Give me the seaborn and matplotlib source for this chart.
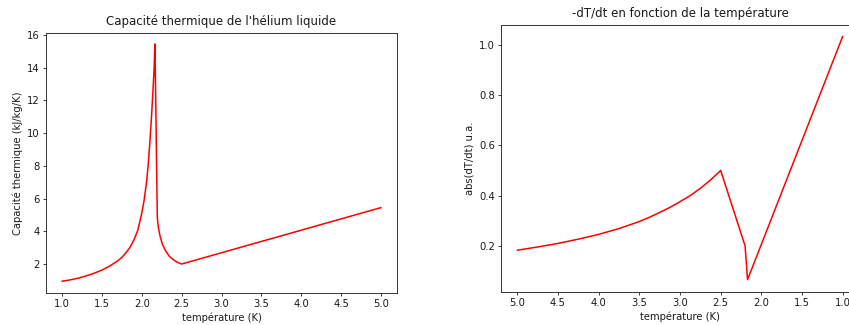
import numpy as np
import pandas as pd
import matplotlib
matplotlib.use("Agg")
import matplotlib.pyplot as plt
import seaborn as sns

# heat capacity of liquid helium
temp_c = [1.0, 1.1, 1.2, 1.3, 1.4, 1.5, 1.6, 1.7, 1.75, 1.8, 1.85, 1.9,
          1.95, 2.0, 2.03, 2.06, 2.08, 2.1, 2.12, 2.14, 2.155, 2.166,
          2.195, 2.2, 2.21, 2.23, 2.26, 2.3, 2.35, 2.4, 2.45, 2.5, 5.0]
capa = [0.95, 1.03, 1.13, 1.27, 1.43, 1.63, 1.88, 2.2, 2.4, 2.68, 3.0,
        3.45, 4.05, 5.1, 5.9, 7.0, 8.0, 9.3, 10.8, 12.5, 13.9, 15.45,
        4.9, 4.6, 4.2, 3.7, 3.2, 2.8, 2.45, 2.25, 2.1, 2.0, 5.45]

# -dT/dt vs temperature
temp_r = [5.0, 4.75, 4.5, 4.25, 4.0, 3.75, 3.5, 3.375, 3.25, 3.125, 3.0,
          2.875, 2.75, 2.625, 2.5, 2.2, 2.17, 1.0]
dtdt = [0.183, 0.196, 0.21, 0.227, 0.246, 0.269, 0.297, 0.314, 0.333,
        0.353, 0.376, 0.4, 0.429, 0.462, 0.5, 0.2, 0.066, 1.033]

sns.set_style("white")
plt.rcParams["font.family"] = ["DejaVu Sans"]

fig = plt.figure(figsize=(8.49, 3.25), dpi=100)
ax1 = fig.add_axes([46/849, 32/325, 351/849, 260/325])
ax2 = fig.add_axes([501/849, 33/325, 358/849, 267/325])

df1 = pd.DataFrame({"T": temp_c, "C": capa})
df2 = pd.DataFrame({"T": temp_r, "v": dtdt})

sns.lineplot(data=df1, x="T", y="C", color="red", lw=1.1, estimator=None,
             sort=False, ax=ax1)
sns.lineplot(data=df2, x="T", y="v", color="red", lw=1.1, estimator=None,
             sort=False, ax=ax2)

ax1.set_title("Capacité thermique de l'hélium liquide", fontsize=8.5, color="#1a1a1a")
ax1.set_xlabel("température (K)", fontsize=7.2, color="#1a1a1a", labelpad=2)
ax1.set_ylabel("Capacité thermique (kJ/kg/K)", fontsize=7.2, color="#1a1a1a", labelpad=3)
ax1.set_xticks(np.arange(1.0, 5.01, 0.5))
ax1.set_yticks(np.arange(2, 17, 2))
ax1.set_xlim(0.8, 5.2)
ax1.set_ylim(0.23, 16.12)

ax2.set_title("-dT/dt en fonction de la température", fontsize=8.5, color="#1a1a1a")
ax2.set_xlabel("température (K)", fontsize=7.2, color="#1a1a1a", labelpad=2)
ax2.set_ylabel("abs(dT/dt) u.a.", fontsize=7.2, color="#1a1a1a", labelpad=3)
ax2.set_xticks(np.arange(1.0, 5.01, 0.5))
ax2.set_yticks([0.2, 0.4, 0.6, 0.8, 1.0])
ax2.set_xlim(5.2, 0.8)
ax2.set_ylim(0.017, 1.078)

for ax in (ax1, ax2):
    ax.tick_params(axis="both", labelsize=7.2, length=2.5, width=0.6,
                   colors="#1a1a1a", pad=2, bottom=True, left=True)
    for s in ax.spines.values():
        s.set_visible(True)
        s.set_color("#333333")
        s.set_linewidth(0.7)

fig.savefig("out.png", dpi=100)
